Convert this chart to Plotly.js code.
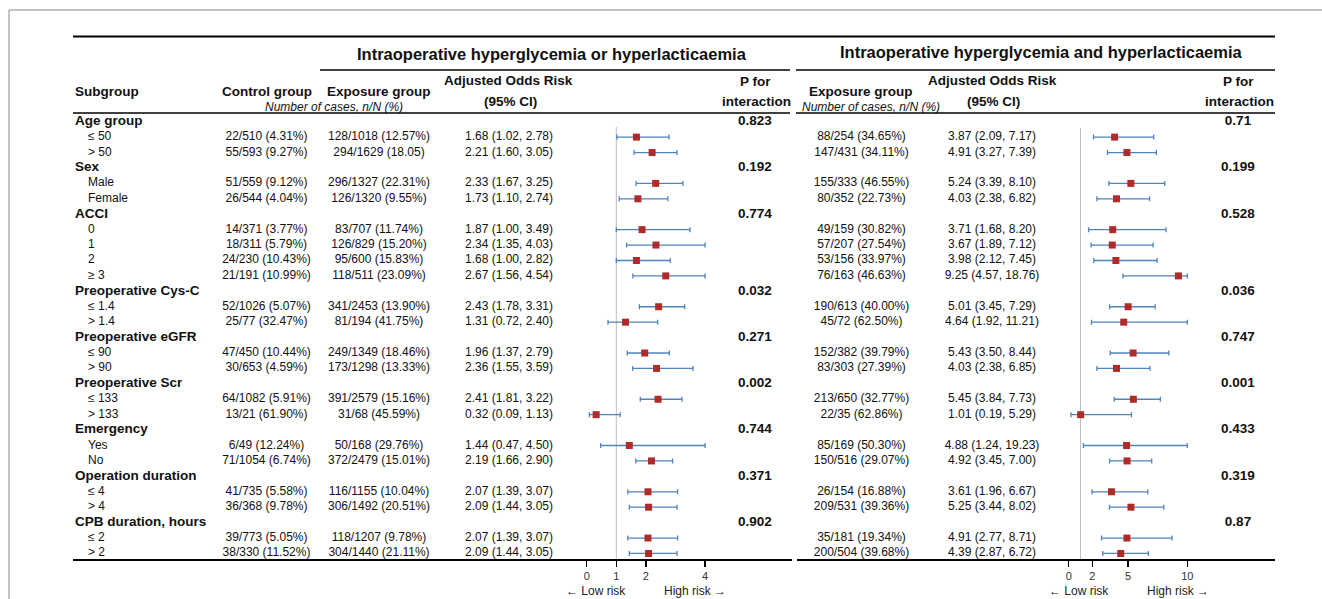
<!DOCTYPE html>
<html><head><meta charset="utf-8">
<script src="https://cdn.plot.ly/plotly-3.0.1.min.js"></script>
<style>html,body{margin:0;padding:0;background:#fff}</style>
</head><body><div id="chart" style="width:1322px;height:599px"></div>
<script>
// ---------------- DATA ----------------
const groups = ["Age group","Sex","ACCI","Preoperative Cys-C","Preoperative eGFR","Preoperative Scr","Emergency","Operation duration","CPB duration, hours"];
const groupSizes = [2,2,4,2,2,2,2,2,2];
const pInteraction1 = ["0.823","0.192","0.774","0.032","0.271","0.002","0.744","0.371","0.902"];
const pInteraction2 = ["0.71","0.199","0.528","0.036","0.747","0.001","0.433","0.319","0.87"];
const subLabels = ["≤ 50","> 50","Male","Female","0","1","2","≥ 3","≤ 1.4","> 1.4","≤ 90","> 90","≤ 133","> 133","Yes","No","≤ 4","> 4","≤ 2","> 2"];
const controlGroup = ["22/510 (4.31%)","55/593 (9.27%)","51/559 (9.12%)","26/544 (4.04%)","14/371 (3.77%)","18/311 (5.79%)","24/230 (10.43%)","21/191 (10.99%)","52/1026 (5.07%)","25/77 (32.47%)","47/450 (10.44%)","30/653 (4.59%)","64/1082 (5.91%)","13/21 (61.90%)","6/49 (12.24%)","71/1054 (6.74%)","41/735 (5.58%)","36/368 (9.78%)","39/773 (5.05%)","38/330 (11.52%)"];
const exposure1 = ["128/1018 (12.57%)","294/1629 (18.05)","296/1327 (22.31%)","126/1320 (9.55%)","83/707 (11.74%)","126/829 (15.20%)","95/600 (15.83%)","118/511 (23.09%)","341/2453 (13.90%)","81/194 (41.75%)","249/1349 (18.46%)","173/1298 (13.33%)","391/2579 (15.16%)","31/68 (45.59%)","50/168 (29.76%)","372/2479 (15.01%)","116/1155 (10.04%)","306/1492 (20.51%)","118/1207 (9.78%)","304/1440 (21.11%)"];
const or1 = [1.68,2.21,2.33,1.73,1.87,2.34,1.68,2.67,2.43,1.31,1.96,2.36,2.41,0.32,1.44,2.19,2.07,2.09,2.07,2.09];
const lo1 = [1.02,1.60,1.67,1.10,1.00,1.35,1.00,1.56,1.78,0.72,1.37,1.55,1.81,0.09,0.47,1.66,1.39,1.44,1.39,1.44];
const hi1 = [2.78,3.05,3.25,2.74,3.49,4.03,2.82,4.54,3.31,2.40,2.79,3.59,3.22,1.13,4.50,2.90,3.07,3.05,3.07,3.05];
const exposure2 = ["88/254 (34.65%)","147/431 (34.11%)","155/333 (46.55%)","80/352 (22.73%)","49/159 (30.82%)","57/207 (27.54%)","53/156 (33.97%)","76/163 (46.63%)","190/613 (40.00%)","45/72 (62.50%)","152/382 (39.79%)","83/303 (27.39%)","213/650 (32.77%)","22/35 (62.86%)","85/169 (50.30%)","150/516 (29.07%)","26/154 (16.88%)","209/531 (39.36%)","35/181 (19.34%)","200/504 (39.68%)"];
const or2 = [3.87,4.91,5.24,4.03,3.71,3.67,3.98,9.25,5.01,4.64,5.43,4.03,5.45,1.01,4.88,4.92,3.61,5.25,4.91,4.39];
const lo2 = [2.09,3.27,3.39,2.38,1.68,1.89,2.12,4.57,3.45,1.92,3.50,2.38,3.84,0.19,1.24,3.45,1.96,3.44,2.77,2.87];
const hi2 = [7.17,7.39,8.10,6.82,8.20,7.12,7.45,18.76,7.29,11.21,8.44,6.85,7.73,5.29,19.23,7.00,6.67,8.02,8.71,6.72];
const ticks1 = [0,1,2,4];
const ticks2 = [0,2,5,10];
const clip1 = 4, clip2 = 10;

// ---------------- LAYOUT HELPERS ----------------
const W = 1322, H = 599, PB = 560;          // plot area bottom (pixel)
const ROW0 = 121.7, STEP = 15.42;
const py = p => (p - ROW0) / STEP;           // pixel y -> row units
const pp = p => (PB - p) / PB;               // pixel y -> paper y
const FONT = "Liberation Sans, Arial, sans-serif";

// rows
const groupRows = [], itemRows = [];
let r = 0;
groupSizes.forEach(n => { groupRows.push(r); r++; for (let k = 0; k < n; k++) { itemRows.push(r); r++; } });

const fmt = (o, l, h) => `${o.toFixed(2)} (${l.toFixed(2)}, ${h.toFixed(2)})`;
const orText1 = or1.map((o, i) => fmt(o, lo1[i], hi1[i]));
const orText2 = or2.map((o, i) => fmt(o, lo2[i], hi2[i]));

function textTrace(x, ys, texts, pos, size, bold) {
  return {type: 'scatter', mode: 'text', xaxis: 'x3', yaxis: 'y',
    x: ys.map(() => x), y: ys, text: texts, textposition: pos, hoverinfo: 'skip', showlegend: false,
    cliponaxis: false,
    textfont: {family: FONT, size: size, color: '#111', weight: bold ? 'bold' : 'normal'}};
}
function forestTrace(xa, or, lo, hi, clip) {
  return {type: 'scatter', mode: 'markers', xaxis: xa, yaxis: 'y', x: or, y: itemRows,
    hoverinfo: 'skip', showlegend: false, cliponaxis: false,
    marker: {symbol: 'square', size: 7, color: '#b02a2a'},
    error_x: {type: 'data', symmetric: false,
      array: or.map((o, i) => Math.min(hi[i], clip) - o),
      arrayminus: or.map((o, i) => o - lo[i]),
      color: '#4f84bd', thickness: 1.3, width: 2.5}};
}

const traces = [
  textTrace(75, groupRows, groups, 'middle right', 13.5, true),
  textTrace(88, itemRows, subLabels, 'middle right', 12, false),
  textTrace(266.5, itemRows, controlGroup, 'middle center', 12, false),
  textTrace(379, itemRows, exposure1, 'middle center', 12, false),
  textTrace(509, itemRows, orText1, 'middle center', 12, false),
  textTrace(755, groupRows, pInteraction1, 'middle center', 13.5, true),
  textTrace(861.5, itemRows, exposure2, 'middle center', 12, false),
  textTrace(992, itemRows, orText2, 'middle center', 12, false),
  textTrace(1238, groupRows, pInteraction2, 'middle center', 13.5, true),
  forestTrace('x', or1, lo1, hi1, clip1),
  forestTrace('x2', or2, lo2, hi2, clip2)
];

const bottom = py(PB);
const ann = (text, x, y, size, opts) => Object.assign({text, x, y: py(y), xref: 'x3', yref: 'y',
  showarrow: false, xanchor: 'center', yanchor: 'middle',
  font: {family: FONT, size, color: '#111'}}, opts || {});
const annP = (text, x, y, size) => ({text, x, y: pp(y), xref: 'x3', yref: 'paper',
  showarrow: false, xanchor: 'center', yanchor: 'middle', font: {family: FONT, size, color: '#222'}});

const annotations = [
  ann('<b>Intraoperative hyperglycemia or hyperlacticaemia</b>', 552, 54, 16.5),
  ann('<b>Intraoperative hyperglycemia and hyperlacticaemia</b>', 1041, 52, 16.5),
  ann('<b>Subgroup</b>', 73, 91, 13.5, {xanchor: 'left'}),
  ann('<b>Control group</b>', 267, 91, 13.5),
  ann('<b>Exposure group</b>', 379, 91, 13.5),
  ann('<i>Number of cases, n/N (%)</i>', 334, 107, 12),
  ann('<b>Adjusted Odds Risk</b>', 508.5, 80, 13.5),
  ann('<b>(95% CI)</b>', 510, 101, 13.5),
  ann('<b>P for</b>', 755, 81, 13.5),
  ann('<b>interaction</b>', 756, 101, 13.5),
  ann('<b>Exposure group</b>', 861, 91, 13.5),
  ann('<i>Number of cases, n/N (%)</i>', 871, 107, 12),
  ann('<b>Adjusted Odds Risk</b>', 992, 80, 13.5),
  ann('<b>(95% CI)</b>', 993, 101, 13.5),
  ann('<b>P for</b>', 1238, 81, 13.5),
  ann('<b>interaction</b>', 1239, 101, 13.5),
  annP('← Low risk', 596, 591, 12),
  annP('High risk →', 694.5, 591, 12),
  annP('← Low risk', 1078.5, 591, 12),
  annP('High risk →', 1177.5, 591, 12)
];

const hline = (x0, x1, y, w) => ({type: 'line', xref: 'x3', yref: 'paper', x0, x1, y0: pp(y), y1: pp(y),
  line: {color: '#000', width: w}});
const shapes = [
  // outer frame
  {type: 'line', xref: 'x3', yref: 'paper', x0: 9, x1: 9, y0: pp(10), y1: pp(600), line: {color: '#8a8a8a', width: 1}, layer: 'below'},
  {type: 'line', xref: 'x3', yref: 'paper', x0: 9, x1: 1322, y0: pp(10), y1: pp(10), line: {color: '#8a8a8a', width: 1}, layer: 'below'},
  hline(73, 1275, 36.5, 2),
  hline(320, 790, 70, 1.5), hline(796, 1275, 70, 1.5),
  hline(73, 790, 113, 1.5), hline(796, 1275, 113, 1.5),
  hline(73, 792, 560, 2), hline(797, 1275, 560, 2),
  {type: 'line', xref: 'x', yref: 'y', x0: 1, x1: 1, y0: py(127), y1: bottom, line: {color: '#bdbdbd', width: 1}, layer: 'below'},
  {type: 'line', xref: 'x2', yref: 'y', x0: 1, x1: 1, y0: py(128), y1: bottom, line: {color: '#bdbdbd', width: 1}, layer: 'below'}
];

const axBase = {showgrid: false, zeroline: false, showline: false, ticks: 'outside', ticklen: 6,
  tickwidth: 1.2, tickcolor: '#000', tickfont: {family: FONT, size: 11, color: '#333'}, anchor: 'y',
  fixedrange: true, tickmode: 'array'};
const d1 = [560, 790], d2 = [1040, 1275];
const layout = {
  width: W, height: H, margin: {l: 0, r: 0, t: 0, b: H - PB, pad: 0},
  paper_bgcolor: '#fff', plot_bgcolor: 'rgba(0,0,0,0)', showlegend: false,
  xaxis: Object.assign({}, axBase, {domain: [d1[0] / W, d1[1] / W],
    range: [(d1[0] - 586.7) / 29.6, (d1[1] - 586.7) / 29.6], tickvals: ticks1, ticktext: ticks1.map(String)}),
  xaxis2: Object.assign({}, axBase, {domain: [d2[0] / W, d2[1] / W],
    range: [(d2[0] - 1068.7) / 11.86, (d2[1] - 1068.7) / 11.86], tickvals: ticks2, ticktext: ticks2.map(String)}),
  xaxis3: {domain: [0, 1], range: [0, W], visible: false, anchor: 'y', fixedrange: true},
  yaxis: {domain: [0, 1], range: [py(PB), py(0)], visible: false, fixedrange: true},
  annotations, shapes
};
Plotly.newPlot('chart', traces, layout, {staticPlot: true, displayModeBar: false});
</script></body></html>
